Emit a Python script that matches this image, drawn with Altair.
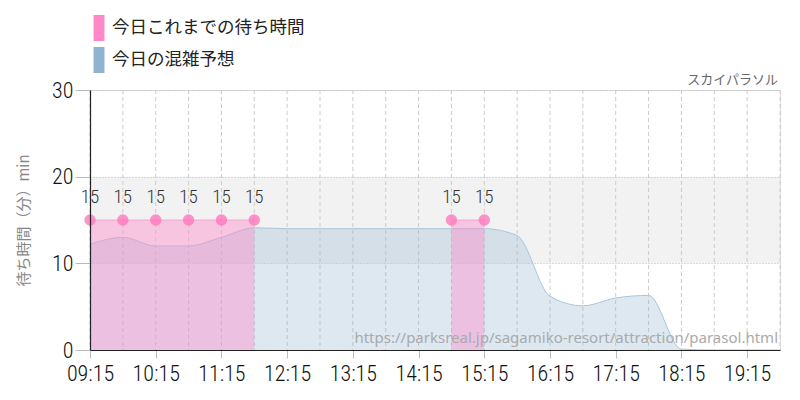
import altair as alt
import pandas as pd

# ---- data ----
forecast_times = ["09:15", "09:45", "10:15", "10:45", "11:15", "11:45", "12:15", "12:45",
                  "13:15", "13:45", "14:15", "14:45", "15:15", "15:45", "16:15", "16:45",
                  "17:15", "17:45", "18:15", "18:45", "19:15", "19:45"]
forecast_values = [12.2, 13.0, 12.0, 12.0, 13.0, 14.1, 14.0, 14.0,
                   14.0, 14.0, 14.0, 14.0, 14.0, 13.2, 6.2, 5.1,
                   6.0, 6.3, 0.1, 0.0, 0.0, 0.0]

wait_times = ["09:15", "09:45", "10:15", "10:45", "11:15", "11:45", "14:45", "15:15"]
wait_values = [15, 15, 15, 15, 15, 15, 15, 15]
wait_segments = [1, 1, 1, 1, 1, 1, 2, 2]

tick_labels = ["09:15", "10:15", "11:15", "12:15", "13:15", "14:15", "15:15",
               "16:15", "17:15", "18:15", "19:15"]
grid_times = forecast_times
y_ticks = [0, 10, 20, 30]
band = [10, 20]

series_names = ["今日これまでの待ち時間", "今日の混雑予想"]
series_colors = ["#ff88c8", "#8fb3d0"]
attraction = "スカイパラソル"
url = "https://parksreal.jp/sagamiko-resort/attraction/parasol.html"


def to_h(s):
    h, m = s.split(":")
    return int(h) + int(m) / 60


fc = pd.DataFrame({"t": [to_h(s) for s in forecast_times], "v": forecast_values,
                   "s": series_names[1]})
wt = pd.DataFrame({"t": [to_h(s) for s in wait_times], "v": wait_values,
                   "seg": wait_segments, "s": series_names[0]})
grid = pd.DataFrame({"t": [to_h(s) for s in grid_times]})

NUM_FONT = "Roboto Condensed, DejaVu Sans Condensed, Roboto, sans-serif"
JP_FONT = "Noto Sans CJK JP"

xdom = [to_h("09:15"), to_h("19:45")]
xscale = alt.Scale(domain=xdom, nice=False, zero=False)
yscale = alt.Scale(domain=[0, 30], nice=False)
color_scale = alt.Scale(domain=series_names, range=series_colors)

label_expr = ("pad(toString(floor(datum.value + 0.001)), 2, '0', 'left') + ':' + "
              "pad(toString(round((datum.value - floor(datum.value + 0.001)) * 60)), 2, '0', 'left')")

x_axis = alt.Axis(values=[to_h(s) for s in tick_labels], labelExpr=label_expr, grid=False,
                  domainColor="#222", domainWidth=1.2, tickColor="#bbb", tickSize=8,
                  labelFont=NUM_FONT, labelFontSize=22, labelFontWeight=300,
                  labelColor="#111", labelPadding=5,
                  labelOverlap=False, labelFlush=False, title=None, zindex=1)
y_axis = alt.Axis(values=y_ticks, grid=True, gridDash=[1, 2], gridColor="#bbb",
                  domainColor="#222", domainWidth=1.2, tickColor="#bbb", tickSize=15,
                  labelFont=NUM_FONT, labelFontSize=22, labelFontWeight=300,
                  labelColor="#111", labelPadding=2,
                  labelOverlap=False, labelFlush=False, zindex=1,
                  title="待ち時間（分）min", titleFont=JP_FONT, titleFontSize=15,
                  titleColor="#888", titleFontWeight="normal", titlePadding=20)

legend = alt.Legend(orient="none", legendX=-4, legendY=-75, title=None, direction="vertical",
                    symbolType="M-0.42,-1L0.42,-1L0.42,1L-0.42,1Z", symbolSize=676,
                    symbolStrokeWidth=0, symbolOpacity=1, labelFont=JP_FONT,
                    labelFontSize=17.5, labelColor="#222", labelLimit=0, rowPadding=6,
                    padding=0, labelOffset=0)

base_band = alt.Chart(pd.DataFrame({"lo": [band[0]], "hi": [band[1]]})).mark_rect(
    color="#f2f2f2").encode(
    x=alt.value(0), x2=alt.value(690),
    y=alt.Y("lo:Q", scale=yscale, axis=y_axis), y2="hi:Q")

vgrid = alt.Chart(grid).mark_rule(color="#ccc", strokeDash=[4, 3], strokeWidth=1).encode(
    x=alt.X("t:Q", scale=xscale, axis=x_axis), y=alt.value(0), y2=alt.value(260))

blue_area = alt.Chart(fc).mark_area(interpolate="monotone", fillOpacity=0.3).encode(
    x=alt.X("t:Q", scale=xscale),
    y=alt.Y("v:Q", scale=yscale, stack=None),
    color=alt.Color("s:N", scale=color_scale, legend=legend))

blue_line = alt.Chart(fc).mark_line(interpolate="monotone", color="#a9c5dd", strokeWidth=1).encode(
    x=alt.X("t:Q", scale=xscale), y=alt.Y("v:Q", scale=yscale))

pink_area = alt.Chart(wt).mark_area(fillOpacity=0.42).encode(
    x=alt.X("t:Q", scale=xscale), y=alt.Y("v:Q", scale=yscale, stack=None),
    detail="seg:N",
    color=alt.Color("s:N", scale=color_scale, legend=legend))

pink_line = alt.Chart(wt).mark_line(color="#f7a8cf", strokeWidth=1).encode(
    x=alt.X("t:Q", scale=xscale), y=alt.Y("v:Q", scale=yscale), detail="seg:N")

points = alt.Chart(wt).mark_circle(size=130, color="#ff78bd", opacity=0.8).encode(
    x=alt.X("t:Q", scale=xscale), y=alt.Y("v:Q", scale=yscale))

labels = alt.Chart(wt).mark_text(font=NUM_FONT, fontSize=19, fontWeight=300, color="#333",
                                 dy=-23).encode(
    x=alt.X("t:Q", scale=xscale), y=alt.Y("v:Q", scale=yscale), text="v:Q")

name_text = alt.Chart(pd.DataFrame({"n": [attraction]})).mark_text(
    font=JP_FONT, fontSize=13, color="#666", align="right", baseline="alphabetic").encode(
    text="n:N", x=alt.value(688), y=alt.value(-6))

url_text = alt.Chart(pd.DataFrame({"u": [url]})).mark_text(
    font="Noto Sans", fontSize=15, color="#aaa", align="right", baseline="alphabetic").encode(
    text="u:N", x=alt.value(688), y=alt.value(253))

chart = alt.layer(base_band, vgrid, blue_area, blue_line, pink_area, pink_line, points,
                  labels, name_text, url_text).properties(
    width=690, height=260,
    autosize=alt.AutoSizeParams(type="none"),
    padding={"left": 90, "top": 90, "right": 20, "bottom": 50},
).configure_view(stroke=None).configure(background="white")

chart.save("out.html", embed_options={"renderer": "svg", "actions": False})
